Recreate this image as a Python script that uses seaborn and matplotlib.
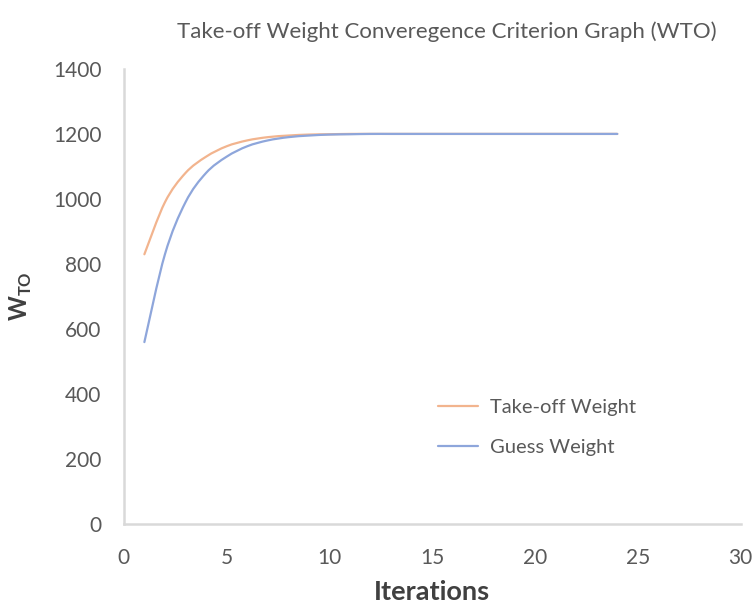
import matplotlib
matplotlib.use("Agg")
import matplotlib.pyplot as plt
from matplotlib.path import Path
from matplotlib.patches import PathPatch
import seaborn as sns
import pandas as pd

iterations = list(range(1, 25))
takeoff_weight = [830, 990, 1080, 1130, 1162, 1180, 1190, 1195, 1198, 1199,
                  1200, 1200, 1200, 1200, 1200, 1200, 1200, 1200, 1200, 1200,
                  1200, 1200, 1200, 1200]
guess_weight = [560, 830, 990, 1080, 1130, 1162, 1180, 1190, 1195, 1198,
                1199, 1200, 1200, 1200, 1200, 1200, 1200, 1200, 1200, 1200,
                1200, 1200, 1200, 1200]
x_ticks = [0, 5, 10, 15, 20, 25, 30]
y_ticks = [0, 200, 400, 600, 800, 1000, 1200, 1400]

sns.set_theme(style="white")
plt.rcParams["font.family"] = ["Lato", "DejaVu Sans"]
plt.rcParams["mathtext.fontset"] = "custom"
plt.rcParams["mathtext.bf"] = "Lato:bold"
plt.rcParams["mathtext.rm"] = "Lato"

df = pd.DataFrame({
    "Iterations": iterations * 2,
    "Weight": takeoff_weight + guess_weight,
    "Series": ["Take-off Weight"] * len(iterations) + ["Guess Weight"] * len(iterations),
})

fig = plt.figure(figsize=(7.55, 6.04), dpi=100)
ax = fig.add_axes([0.164, 0.132, 0.817, 0.754])

sns.lineplot(data=df, x="Iterations", y="Weight", hue="Series",
             palette={"Take-off Weight": "#F2B48E", "Guess Weight": "#8EA6DB"},
             linewidth=1.6, ax=ax)


def smooth_path(xs, ys):
    """Bezier path through the points (Catmull-Rom style, like smoothed spreadsheet lines)."""
    pts = list(zip(xs, ys))
    n = len(pts)
    verts = [pts[0]]
    codes = [Path.MOVETO]
    for i in range(n - 1):
        p0 = pts[max(i - 1, 0)]
        p1 = pts[i]
        p2 = pts[i + 1]
        p3 = pts[min(i + 2, n - 1)]
        c1 = (p1[0] + (p2[0] - p0[0]) / 6, p1[1] + (p2[1] - p0[1]) / 6)
        c2 = (p2[0] - (p3[0] - p1[0]) / 6, p2[1] - (p3[1] - p1[1]) / 6)
        verts += [c1, c2, p2]
        codes += [Path.CURVE4] * 3
    return Path(verts, codes)


# Replace the straight polylines by smoothed curves through the same points
for line in [l for l in ax.get_lines() if len(l.get_xdata()) == len(iterations)]:
    patch = PathPatch(smooth_path(line.get_xdata(), line.get_ydata()),
                      facecolor="none", edgecolor=line.get_color(),
                      linewidth=line.get_linewidth(), capstyle="round")
    ax.add_patch(patch)
    line.set_visible(False)

old_leg = ax.get_legend()
handles = list(old_leg.legend_handles)
labels = [t.get_text() for t in old_leg.get_texts()]
old_leg.remove()

ax.set_xlim(0, 30)
ax.set_ylim(0, 1400)
ax.set_xticks(x_ticks)
ax.set_yticks(y_ticks)
ax.tick_params(axis="both", length=0, labelsize=15, colors="#595959")
ax.tick_params(axis="y", pad=16)
ax.tick_params(axis="x", pad=17)

for side in ("top", "right"):
    ax.spines[side].set_visible(False)
for side in ("left", "bottom"):
    ax.spines[side].set_color("#D9D9D9")
    ax.spines[side].set_linewidth(1.8)

ax.set_xlabel("Iterations", fontsize=19.5, fontweight="bold", color="#404040", labelpad=9)
ax.set_ylabel(r"$\mathbf{W}_{\mathbf{TO}}$", fontsize=17, color="#404040", labelpad=14)

fig.text(0.592, 0.948, "Take-off Weight Converegence Criterion Graph (WTO)",
         ha="center", va="center", fontsize=16, color="#595959")

leg = ax.legend(handles, labels, loc="center left", bbox_to_anchor=(0.48, 0.213),
                frameon=False, fontsize=14.5, labelspacing=1.15,
                handlelength=2.0, handletextpad=0.6)
for t in leg.get_texts():
    t.set_color("#595959")

fig.savefig("out.png", dpi=100, facecolor="white")
